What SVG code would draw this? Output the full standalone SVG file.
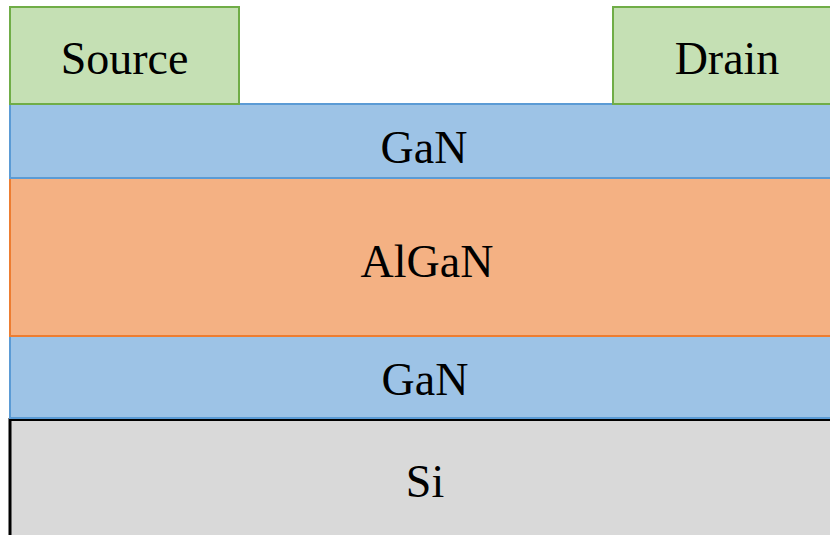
<svg xmlns="http://www.w3.org/2000/svg" width="830" height="535" viewBox="0 0 830 535">
<style>
text{font-family:"Liberation Serif","Times New Roman",serif;font-size:46px;fill:#000;text-anchor:middle}
.contact{fill:#C5E0B4;stroke:#70AD47;stroke-width:2}
.gan{fill:#9DC3E6;stroke:#5B9BD5;stroke-width:2}
.algan{fill:#F4B183;stroke:#ED7D31;stroke-width:2}
.si{fill:#D9D9D9;stroke:#000;stroke-width:3}
</style>
<rect width="830" height="535" fill="#fff"/>
<g id="si"><rect class="si" x="10" y="419.5" width="840" height="130"/><text x="425" y="497">Si</text></g>
<g id="gan-bottom"><rect class="gan" x="10" y="336" width="840" height="82"/><text x="425" y="395">GaN</text></g>
<g id="algan"><rect class="algan" x="10" y="178" width="840" height="158"/><text x="427" y="277">AlGaN</text></g>
<g id="gan-top"><rect class="gan" x="10" y="104" width="840" height="74"/><text x="424" y="163">GaN</text></g>
<g id="source"><rect class="contact" x="10" y="7" width="229" height="97"/><text x="124.5" y="74">Source</text></g>
<g id="drain"><rect class="contact" x="613" y="7" width="240" height="97"/><text x="727" y="74">Drain</text></g>
<g id="connectors"></g>
</svg>
